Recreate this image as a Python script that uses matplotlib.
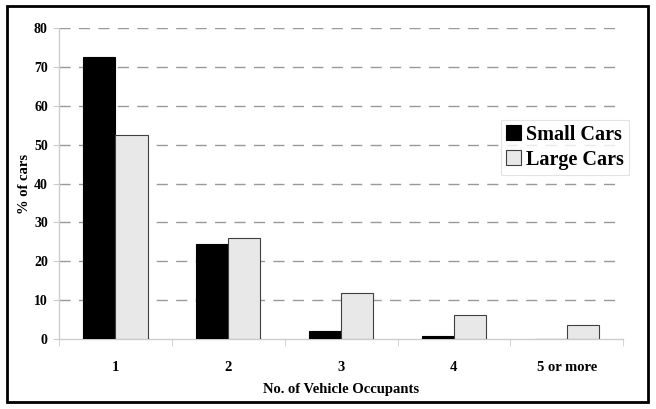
import numpy as np
import matplotlib.pyplot as plt
from matplotlib.patches import Rectangle

categories = ['1', '2', '3', '4', '5 or more']
small_cars = [72.5, 24.4, 2.1, 0.8, 0.0]
large_cars = [52.4, 26.0, 11.8, 6.2, 3.6]
yticks = [0, 10, 20, 30, 40, 50, 60, 70, 80]

plt.rcParams['font.family'] = ['Liberation Serif', 'DejaVu Serif']
plt.rcParams['font.weight'] = 'bold'

fig = plt.figure(figsize=(6.56, 4.09), dpi=100)
ax = fig.add_axes([0.0899, 0.171, 0.8601, 0.7605])

x = np.arange(len(categories))
w = 1 / 3.5
ax.bar(x - w / 2, small_cars, w, color='black', edgecolor='black', linewidth=0.8,
       label='Small Cars', zorder=3)
ax.bar(x + w / 2, large_cars, w, color='#e8e8e8', edgecolor='#404040', linewidth=0.8,
       label='Large Cars', zorder=3)

ax.set_xlim(-0.5, len(categories) - 0.5)
ax.set_ylim(0, 80)
ax.set_yticks(yticks)
ax.set_yticklabels([str(v) for v in yticks], fontsize=10, fontweight='bold')
ax.set_xticks(x)
ax.set_xticklabels(categories, fontsize=10.5, fontweight='bold')
ax.tick_params(axis='x', length=0, pad=16)
ax.set_xticks(np.arange(len(categories) + 1) - 0.5, minor=True)
ax.tick_params(axis='x', which='minor', length=5, color='#cccccc', direction='out')
ax.tick_params(axis='y', length=4, color='#cccccc', pad=4)

for yv in yticks[1:]:
    ax.axhline(yv, color='#999999', linestyle=(0, (8, 6)), linewidth=1, zorder=1)

for s in ['top', 'right']:
    ax.spines[s].set_visible(False)
for s in ['left', 'bottom']:
    ax.spines[s].set_color('#cccccc')
    ax.spines[s].set_linewidth(1)

ax.set_xlabel('No. of Vehicle Occupants', fontsize=10.5, fontweight='bold', labelpad=6)
ax.set_ylabel('% of cars', fontsize=10.5, fontweight='bold')
ax.yaxis.set_label_coords(-0.05, 0.5)

leg = ax.legend(loc='upper right', bbox_to_anchor=(1.01, 0.705),
                prop={'weight': 'bold', 'size': 14.5}, frameon=True, fancybox=False,
                handlelength=0.75, handleheight=0.75, handletextpad=0.25,
                borderpad=0.25, labelspacing=0.25, borderaxespad=0)
leg.get_frame().set_edgecolor('#dddddd')
leg.get_frame().set_linewidth(0.8)

fig.patches.append(Rectangle((0.01, 0.017), 0.978, 0.968, transform=fig.transFigure,
                             fill=False, edgecolor='black', linewidth=2))

fig.savefig('out.png', dpi=100)
